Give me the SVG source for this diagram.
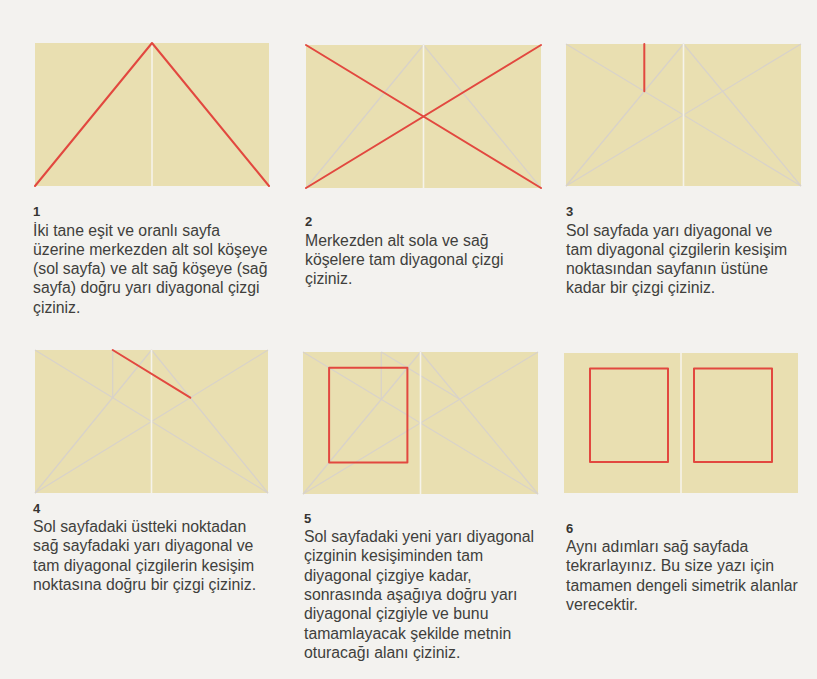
<svg xmlns="http://www.w3.org/2000/svg" width="817" height="679" viewBox="0 0 817 679">
<style>
.bg{fill:#f3f2ef}
.page{fill:#e9dfb1}
.div{stroke:#f6f3ea;stroke-width:1.6}
.faint{stroke:#d8d2ca;stroke-width:1.2;fill:none}
.red{stroke:#e2483f;stroke-width:2;fill:none;stroke-linecap:round;stroke-linejoin:round}
.t{font-family:"Liberation Sans",Arial,Helvetica,sans-serif;font-size:15.8px;fill:#403f3c}
.n{font-family:"Liberation Sans",Arial,Helvetica,sans-serif;font-size:13px;font-weight:bold;fill:#363532}
</style>
<rect class="bg" x="0" y="0" width="817" height="679"/>

<g id="panel1">
<rect class="page" x="35" y="43" width="234" height="143"/>
<line class="div" x1="152" y1="43" x2="152" y2="186"/>
<polyline class="red" points="35,186 152,43 269,186"/>
</g>

<g id="panel2">
<rect class="page" x="306" y="45" width="235" height="143"/>
<line class="faint" x1="423.5" y1="45" x2="306" y2="188"/>
<line class="faint" x1="423.5" y1="45" x2="541" y2="188"/>
<line class="div" x1="423.5" y1="45" x2="423.5" y2="188"/>
<line class="red" x1="306" y1="45" x2="541" y2="188"/>
<line class="red" x1="541" y1="45" x2="306" y2="188"/>
</g>

<g id="panel3">
<rect class="page" x="566" y="44" width="235" height="142"/>
<line class="faint" x1="683.5" y1="44" x2="566" y2="186"/>
<line class="faint" x1="683.5" y1="44" x2="801" y2="186"/>
<line class="faint" x1="566" y1="44" x2="801" y2="186"/>
<line class="faint" x1="801" y1="44" x2="566" y2="186"/>
<line class="div" x1="683.5" y1="44" x2="683.5" y2="186"/>
<line class="red" x1="644.3" y1="44" x2="644.3" y2="91.3"/>
</g>

<g id="panel4">
<rect class="page" x="35" y="350" width="233" height="143"/>
<line class="faint" x1="151.5" y1="350" x2="35" y2="493"/>
<line class="faint" x1="151.5" y1="350" x2="268" y2="493"/>
<line class="faint" x1="35" y1="350" x2="268" y2="493"/>
<line class="faint" x1="268" y1="350" x2="35" y2="493"/>
<line class="faint" x1="112.7" y1="350" x2="112.7" y2="397.7"/>
<line class="div" x1="151.5" y1="350" x2="151.5" y2="493"/>
<line class="red" x1="112.7" y1="350" x2="190.3" y2="397.7"/>
</g>

<g id="panel5">
<rect class="page" x="303" y="352" width="235" height="142"/>
<line class="faint" x1="420.5" y1="352" x2="303" y2="494"/>
<line class="faint" x1="420.5" y1="352" x2="538" y2="494"/>
<line class="faint" x1="303" y1="352" x2="538" y2="494"/>
<line class="faint" x1="538" y1="352" x2="303" y2="494"/>
<line class="faint" x1="381.3" y1="352" x2="381.3" y2="399.3"/>
<line class="faint" x1="381.3" y1="352" x2="459.7" y2="399.3"/>
<line class="div" x1="420.5" y1="352" x2="420.5" y2="494"/>
<rect class="red" x="329.1" y="367.8" width="78.3" height="94.6"/>
</g>

<g id="panel6">
<rect class="page" x="564" y="353" width="234" height="140"/>
<line class="div" x1="681" y1="353" x2="681" y2="493"/>
<rect class="red" x="590" y="368.6" width="78" height="93.3"/>
<rect class="red" x="694" y="368.6" width="78" height="93.3"/>
</g>

<g id="text1">
<text class="n" x="33" y="215.5">1</text>
<text class="t" x="33" y="235.5">İki tane eşit ve oranlı sayfa</text>
<text class="t" x="33" y="254.8">üzerine merkezden alt sol köşeye</text>
<text class="t" x="33" y="274.1">(sol sayfa) ve alt sağ köşeye (sağ</text>
<text class="t" x="33" y="293.4">sayfa) doğru yarı diyagonal çizgi</text>
<text class="t" x="33" y="312.7">çiziniz.</text>
</g>

<g id="text2">
<text class="n" x="305" y="225.5">2</text>
<text class="t" x="305" y="245.5">Merkezden alt sola ve sağ</text>
<text class="t" x="305" y="264.8">köşelere tam diyagonal çizgi</text>
<text class="t" x="305" y="284.1">çiziniz.</text>
</g>

<g id="text3">
<text class="n" x="566" y="215.5">3</text>
<text class="t" x="566" y="235.5">Sol sayfada yarı diyagonal ve</text>
<text class="t" x="566" y="254.8">tam diyagonal çizgilerin kesişim</text>
<text class="t" x="566" y="274.1">noktasından sayfanın üstüne</text>
<text class="t" x="566" y="293.4">kadar bir çizgi çiziniz.</text>
</g>

<g id="text4">
<text class="n" x="33" y="513">4</text>
<text class="t" x="33" y="532">Sol sayfadaki üstteki noktadan</text>
<text class="t" x="33" y="551.3">sağ sayfadaki yarı diyagonal ve</text>
<text class="t" x="33" y="570.6">tam diyagonal çizgilerin kesişim</text>
<text class="t" x="33" y="589.9">noktasına doğru bir çizgi çiziniz.</text>
</g>

<g id="text5">
<text class="n" x="304" y="523">5</text>
<text class="t" x="304" y="542">Sol sayfadaki yeni yarı diyagonal</text>
<text class="t" x="304" y="561.3">çizginin kesişiminden tam</text>
<text class="t" x="304" y="580.6">diyagonal çizgiye kadar,</text>
<text class="t" x="304" y="599.9">sonrasında aşağıya doğru yarı</text>
<text class="t" x="304" y="619.2">diyagonal çizgiyle ve bunu</text>
<text class="t" x="304" y="638.5">tamamlayacak şekilde metnin</text>
<text class="t" x="304" y="657.8">oturacağı alanı çiziniz.</text>
</g>

<g id="text6">
<text class="n" x="566" y="533">6</text>
<text class="t" x="566" y="552">Aynı adımları sağ sayfada</text>
<text class="t" x="566" y="571.3">tekrarlayınız. Bu size yazı için</text>
<text class="t" x="566" y="590.6">tamamen dengeli simetrik alanlar</text>
<text class="t" x="566" y="609.9">verecektir.</text>
</g>
</svg>
